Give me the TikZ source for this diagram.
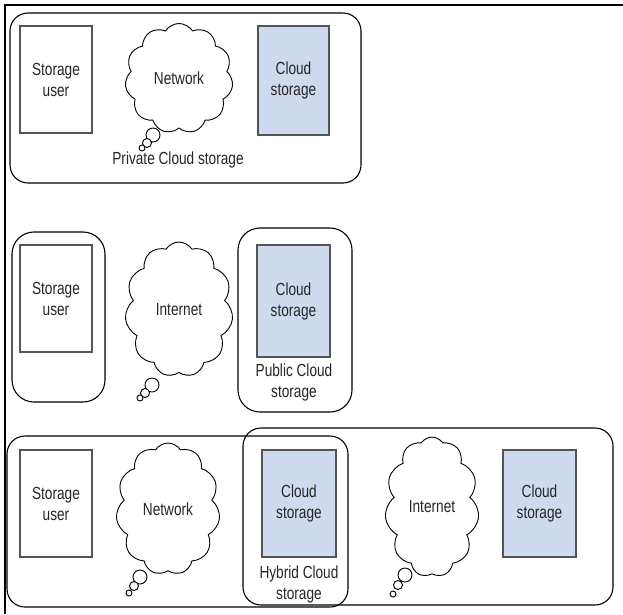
\documentclass[tikz,border=0pt]{standalone}
\usepackage{fontspec}
\setmainfont[FakeStretch=0.78]{Liberation Sans}
\usepackage{xcolor}
\usetikzlibrary{shapes.symbols, positioning}
\definecolor{cloudblue}{RGB}{208,218,238}
\definecolor{boxgray}{RGB}{85,85,85}

\begin{document}
\begin{tikzpicture}[x=1pt, y=-1pt, line width=1.1pt,
    every node/.style={font=\fontsize{17.5}{21}\selectfont, text=black!85, align=center},
    userbox/.style={draw=boxgray, fill=white, minimum width=72pt, minimum height=107pt, inner sep=0pt},
    storebox/.style={userbox, fill=cloudblue},
    netcloud/.style={cloud, draw, fill=white, cloud puffs=11, cloud puff arc=115, cloud ignores aspect, inner sep=0pt, line width=0.9pt},
    bubble/.style={circle, draw, fill=white, inner sep=0pt, line width=0.9pt},
    groupframe/.style={draw, rounded corners=18pt}]

    \useasboundingbox (0,0) rectangle (623,614);

    % --- Outer frame (top and left only) ---
    \draw[line width=2pt] (623,5) -- (5,5) -- (5,614);

    % --- Private cloud row ---
    \draw[groupframe] (10,13) rectangle (361,183);
    \node[userbox] (user1) at (56,79.5) {Storage\\user};
    \node[bubble, minimum size=14pt] (b11) at (153,135) {};
    \node[bubble, minimum size=9pt] (b12) at (147,143) {};
    \node[bubble, minimum size=6pt] (b13) at (142,148) {};
    \node[netcloud, minimum width=108pt, minimum height=110pt] (net1) at (179,78.5) {Network};
    \node[storebox, minimum width=71pt, minimum height=109pt] (store1) at (293.5,80.5) {Cloud\\storage};
    \node (privlbl) at (178,160) {Private Cloud storage};

    % --- Public cloud row ---
    \draw[groupframe, rounded corners=22pt] (12,232) rectangle (105,402);
    \draw[groupframe, rounded corners=22pt] (238,228) rectangle (352,412);
    \node[userbox] (user2) at (56,298.5) {Storage\\user};
    \node[bubble, minimum size=14pt] (b21) at (152,385) {};
    \node[bubble, minimum size=9pt] (b22) at (145,393) {};
    \node[bubble, minimum size=6pt] (b23) at (140,398) {};
    \node[netcloud, minimum width=108pt, minimum height=135pt] (inet2) at (179,309.5) {Internet};
    \node[storebox, minimum width=73pt, minimum height=112pt] (store2) at (293.5,301) {Cloud\\storage};
    \node (publbl) at (294,382.5) {Public Cloud\\storage};

    % --- Hybrid cloud row ---
    \draw[groupframe] (7,436) rectangle (348,607);
    \draw[groupframe] (243,428) rectangle (613,605);
    \node[userbox] (user3) at (56,503.5) {Storage\\user};
    \node[bubble, minimum size=14pt] (b31) at (140,577) {};
    \node[bubble, minimum size=9pt] (b32) at (134,586) {};
    \node[bubble, minimum size=6pt] (b33) at (129,593) {};
    \node[netcloud, minimum width=104pt, minimum height=132pt] (net3) at (168,509) {Network};
    \node[storebox, minimum width=74pt] (store3) at (299,503.5) {Cloud\\storage};
    \node (hyblbl) at (299,584.5) {Hybrid Cloud\\storage};
    \node[bubble, minimum size=14pt] (b41) at (405,575) {};
    \node[bubble, minimum size=9pt] (b42) at (398,585) {};
    \node[bubble, minimum size=6pt] (b43) at (393,594) {};
    \node[netcloud, minimum width=94pt, minimum height=140pt] (inet3) at (432,507) {Internet};
    \node[storebox, minimum width=73pt] (store4) at (539.5,503.5) {Cloud\\storage};

\end{tikzpicture}
\end{document}
